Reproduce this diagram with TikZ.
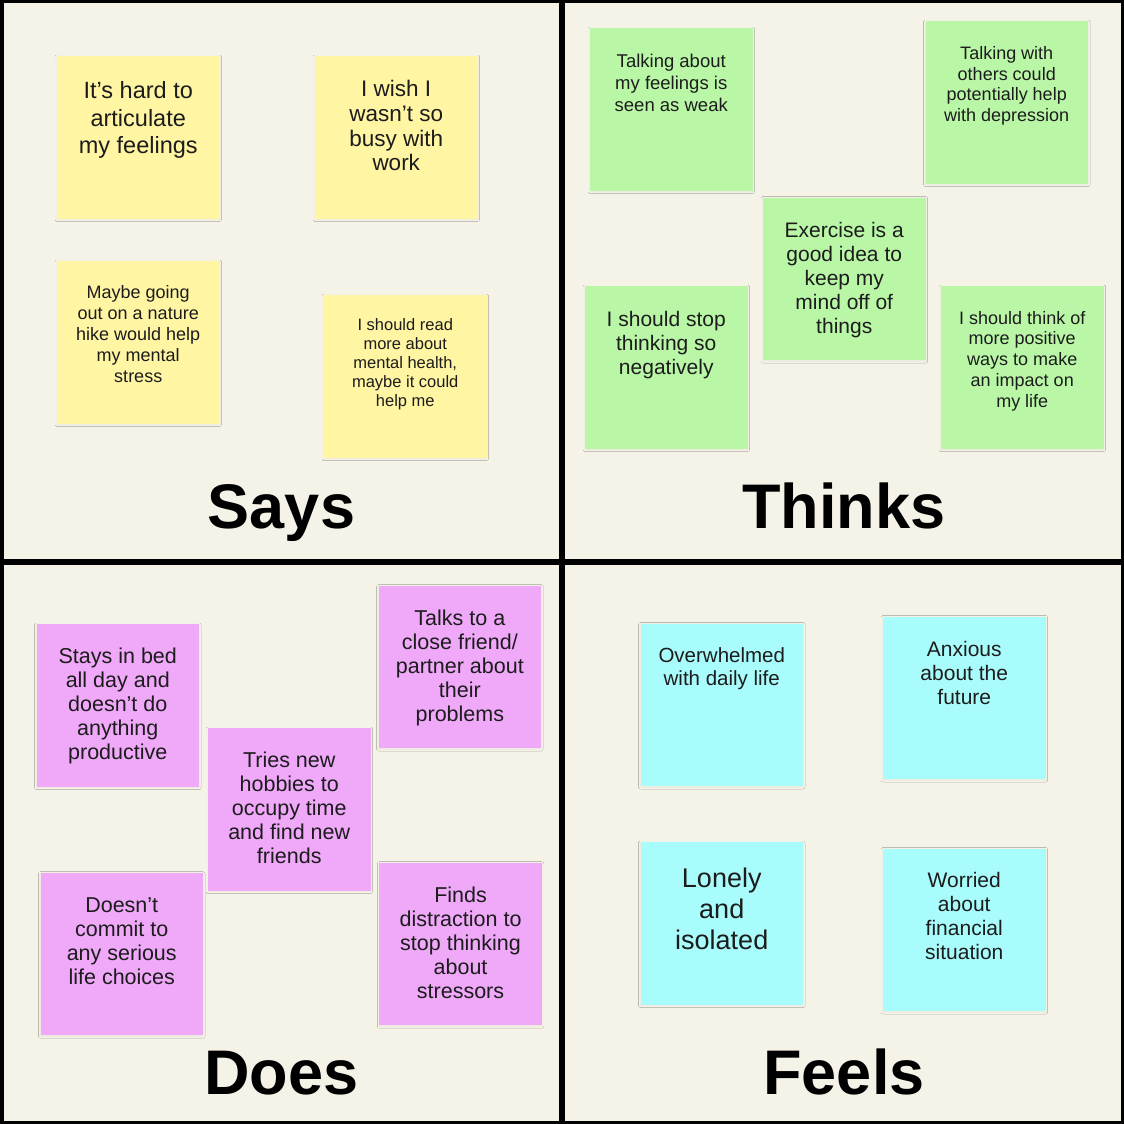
\documentclass[tikz,border=0pt]{standalone}
\usepackage{fontspec}
\setmainfont{Liberation Sans}
\usetikzlibrary{shadows.blur}
\definecolor{bgc}{HTML}{F5F2E8}
\definecolor{yel}{HTML}{FFF5A3}
\definecolor{grn}{HTML}{B9F7A7}
\definecolor{pnk}{HTML}{F0A8F9}
\definecolor{cyn}{HTML}{A8FCFB}
\definecolor{txt}{HTML}{1C1C1C}
\tikzset{
  note/.style={anchor=north west, minimum width=162.5pt, minimum height=162.5pt, inner sep=0pt, outer sep=0pt,
    blur shadow={shadow xshift=0pt, shadow yshift=-1pt, shadow blur radius=2pt, shadow blur steps=5, shadow opacity=5}},
  ntext/.style 2 args={anchor=base, align=center, inner sep=0pt, text=txt, font=\fontsize{#1}{#2}\selectfont},
  title/.style={anchor=base, inner sep=0pt, text=black, font=\fontsize{63}{70}\selectfont\bfseries},
}
\begin{document}
\begin{tikzpicture}[x=1pt,y=-1pt]
\useasboundingbox (0,0) rectangle (1124,1124);
\fill[bgc] (0,0) rectangle (1124,1124);

% ---------- Says ----------
\node[note, fill=yel] (s1) at (57,56) {};
\node[ntext={23.5}{27.8}] (s1t) at (138.25,153.9) {It’s hard to\\articulate\\my feelings};
\node[note, fill=yel] (s2) at (315,56) {};
\node[ntext={22.5}{24.7}] (s2t) at (396.25,170.8) {I wish I\\wasn’t so\\busy with\\work};
\node[note, fill=yel] (s3) at (57,261) {};
\node[ntext={18}{21}] (s3t) at (138.25,382.3) {Maybe going\\out on a nature\\hike would help\\my mental\\stress};
\node[note, fill=yel] (s4) at (324,295) {};
\node[ntext={16.5}{19}] (s4t) at (405.25,406) {I should read\\more about\\mental health,\\maybe it could\\help me};
\node[title] (says) at (281.5,528) {Says};

% ---------- Thinks ----------
\node[note, fill=grn] (t1) at (590,28) {};
\node[ntext={18.5}{21.7}] (t1t) at (671.25,111.1) {Talking about\\my feelings is\\seen as weak};
\node[note, fill=grn] (t2) at (925.5,21) {};
\node[ntext={18}{20.8}] (t2t) at (1006.75,121.7) {Talking with\\others could\\potentially help\\with depression};
\node[note, fill=grn] (t3) at (763,197.5) {};
\node[ntext={21}{24}] (t3t) at (844.25,333.3) {Exercise is a\\good idea to\\keep my\\mind off of\\things};
\node[note, fill=grn] (t4) at (585,286) {};
\node[ntext={21}{24}] (t4t) at (666.25,374) {I should stop\\thinking so\\negatively};
\node[note, fill=grn] (t5) at (941,286) {};
\node[ntext={18}{20.8}] (t5t) at (1022.25,407.2) {I should think of\\more positive\\ways to make\\an impact on\\my life};
\node[title] (thinks) at (844,528) {Thinks};

% ---------- Does ----------
\node[note, fill=pnk] (d1) at (36.5,624) {};
\node[ntext={21.5}{24}] (d1t) at (117.75,759.3) {Stays in bed\\all day and\\doesn’t do\\anything\\productive};
\node[note, fill=pnk] (d2) at (378.6,585.7) {};
\node[ntext={21.5}{24}] (d2t) at (459.85,721) {Talks to a\\close friend/\\partner about\\their\\problems};
\node[note, fill=pnk] (d3) at (208,728) {};
\node[ntext={21.5}{24}] (d3t) at (289.25,863.3) {Tries new\\hobbies to\\occupy time\\and find new\\friends};
\node[note, fill=pnk] (d4) at (40.5,872.7) {};
\node[ntext={21.5}{24}] (d4t) at (121.75,984.3) {Doesn’t\\commit to\\any serious\\life choices};
\node[note, fill=pnk] (d5) at (379.3,862.7) {};
\node[ntext={21.5}{24}] (d5t) at (460.55,998.3) {Finds\\distraction to\\stop thinking\\about\\stressors};
\node[title] (does) at (281.5,1094) {Does};

% ---------- Feels ----------
\node[note, fill=cyn] (f1) at (640.5,623.5) {};
\node[ntext={20.5}{23.7}] (f1t) at (721.75,685.7) {Overwhelmed\\with daily life};
\node[note, fill=cyn] (f2) at (883,616.5) {};
\node[ntext={21}{24}] (f2t) at (964.25,704.7) {Anxious\\about the\\future};
\node[note, fill=cyn] (f3) at (640.5,842) {};
\node[ntext={27}{31}] (f3t) at (721.75,949.3) {Lonely\\and\\isolated};
\node[note, fill=cyn] (f4) at (883,848.5) {};
\node[ntext={21}{24}] (f4t) at (964.25,959.7) {Worried\\about\\financial\\situation};
\node[title] (feels) at (844,1094) {Feels};

% ---------- frame and dividers ----------
\draw[line width=6pt] (562,0) -- (562,1124);
\draw[line width=6pt] (0,562) -- (1124,562);
\draw[line width=3.5pt] (1.75,1.75) rectangle (1122.25,1122.25);
\end{tikzpicture}
\end{document}
